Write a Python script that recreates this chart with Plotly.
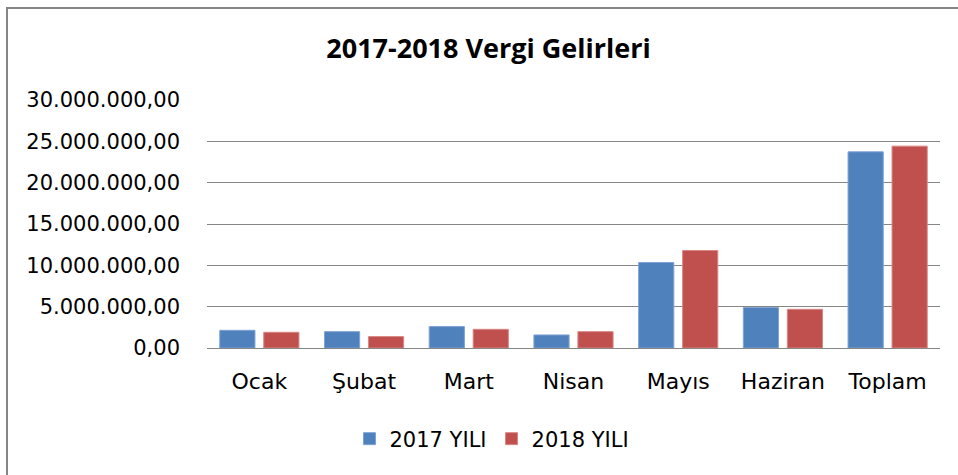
import plotly.graph_objects as go

categories = ["Ocak", "Şubat", "Mart", "Nisan", "Mayıs", "Haziran", "Toplam"]
values_2017 = [2140000, 1980000, 2590000, 1580000, 10340000, 4890000, 23730000]
values_2018 = [1900000, 1380000, 2260000, 1980000, 11790000, 4680000, 24420000]
series_names = ["2017 YILI", "2018 YILI"]
y_ticks = [0, 5000000, 10000000, 15000000, 20000000, 25000000, 30000000]

FONT = "DejaVu Sans"
TITLE_FONT = "Open Sans"
W, H = 958, 475
ml, mr, mt, mb = 207, 18, 100, 127
pw, ph = W - ml - mr, H - mt - mb

fig = go.Figure()
fig.add_trace(go.Bar(x=categories, y=values_2017, name=series_names[0],
                     marker=dict(color="#4F81BD", line=dict(color="#7FA3D3", width=1))))
fig.add_trace(go.Bar(x=categories, y=values_2018, name=series_names[1],
                     marker=dict(color="#C0504D", line=dict(color="#D88785", width=1))))

def px_x(p):
    return (p - ml) / pw

def px_y(p):
    return (H - mb - p) / ph

fig.update_layout(
    width=W, height=H,
    margin=dict(l=ml, r=mr, t=mt, b=mb, pad=0),
    paper_bgcolor="white", plot_bgcolor="white",
    separators=",.",
    barmode="group", bargap=0.16, bargroupgap=0.2,
    title=dict(text="<b>2017-2018 Vergi Gelirleri</b>", x=488.5 / W, xanchor="center",
               y=1 - 49 / H, yanchor="middle",
               font=dict(family=TITLE_FONT, size=27, color="black")),
    font=dict(family=FONT, size=20, color="black"),
    xaxis=dict(showgrid=False, showline=True, linecolor="#868686", linewidth=1,
               ticks="", tickfont=dict(size=22), ticklabelstandoff=14),
    yaxis=dict(range=[0, 30000000], tickvals=y_ticks, tickformat=",.2f",
               showgrid=True, gridcolor="#868686", gridwidth=1,
               zeroline=False, showline=False, ticks="",
               tickfont=dict(size=21), ticklabelstandoff=26),
    legend=dict(orientation="h", x=px_x(492), xanchor="center",
                y=px_y(439), yanchor="middle",
                font=dict(size=21), itemwidth=30, traceorder="normal"),
    shapes=[dict(type="rect", xref="paper", yref="paper",
                 x0=px_x(7), x1=px_x(975), y0=px_y(500), y1=px_y(8),
                 line=dict(color="#868686", width=2), fillcolor="rgba(0,0,0,0)",
                 layer="below")],
)

fig.write_html("out.html", config={"displayModeBar": False},
               post_script="document.body.style.margin='0';document.body.style.overflow='hidden';")
